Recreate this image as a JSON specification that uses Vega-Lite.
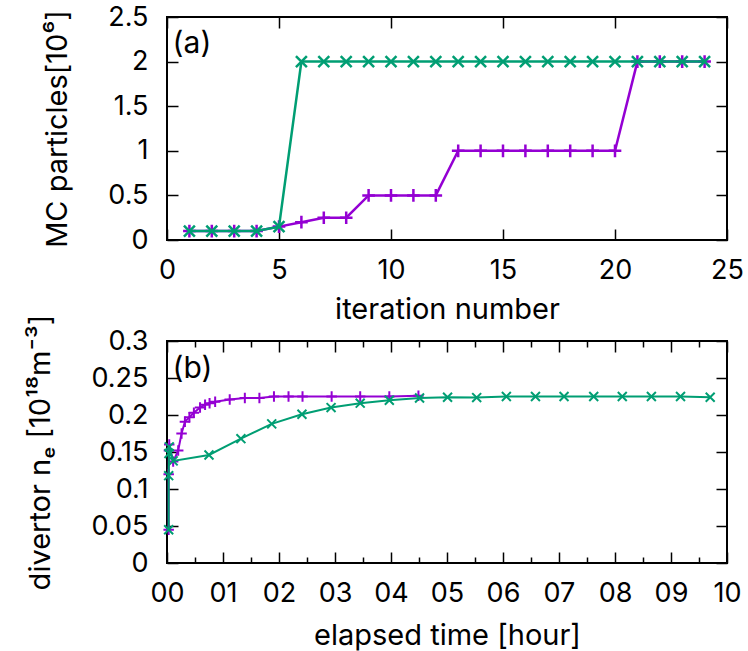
{
  "$schema": "https://vega.github.io/schema/vega-lite/v6.json",
  "background": "white",
  "padding": {"left": 25, "top": 2, "right": 5, "bottom": 0},
  "config": {
    "font": "Inter",
    "view": {"stroke": "black", "strokeWidth": 2},
    "axis": {
      "domain": false,
      "grid": false,
      "labelFont": "Inter",
      "titleFont": "Inter",
      "labelFontSize": 27,
      "titleFontSize": 29,
      "titleFontWeight": "normal",
      "labelColor": "black",
      "titleColor": "black",
      "tickColor": "black",
      "tickWidth": 1.5,
      "tickSize": -11,
      "labelOverlap": false,
      "labelBound": false
    },
    "axisX": {"labelFlush": false, "labelPadding": 28, "titlePadding": 10},
    "axisY": {"labelPadding": 30, "titlePadding": 35}
  },
  "datasets": {
    "a": [
      {"it": 1, "n": 0.1, "s": "p"}, {"it": 2, "n": 0.1, "s": "p"}, {"it": 3, "n": 0.1, "s": "p"}, {"it": 4, "n": 0.1, "s": "p"},
      {"it": 5, "n": 0.15, "s": "p"}, {"it": 6, "n": 0.2, "s": "p"}, {"it": 7, "n": 0.25, "s": "p"}, {"it": 8, "n": 0.25, "s": "p"},
      {"it": 9, "n": 0.5, "s": "p"}, {"it": 10, "n": 0.5, "s": "p"}, {"it": 11, "n": 0.5, "s": "p"}, {"it": 12, "n": 0.5, "s": "p"},
      {"it": 13, "n": 1, "s": "p"}, {"it": 14, "n": 1, "s": "p"}, {"it": 15, "n": 1, "s": "p"}, {"it": 16, "n": 1, "s": "p"},
      {"it": 17, "n": 1, "s": "p"}, {"it": 18, "n": 1, "s": "p"}, {"it": 19, "n": 1, "s": "p"}, {"it": 20, "n": 1, "s": "p"},
      {"it": 21, "n": 2, "s": "p"}, {"it": 22, "n": 2, "s": "p"}, {"it": 23, "n": 2, "s": "p"}, {"it": 24, "n": 2, "s": "p"},
      {"it": 1, "n": 0.1, "s": "g"}, {"it": 2, "n": 0.1, "s": "g"}, {"it": 3, "n": 0.1, "s": "g"}, {"it": 4, "n": 0.1, "s": "g"},
      {"it": 5, "n": 0.15, "s": "g"}, {"it": 6, "n": 2, "s": "g"}, {"it": 7, "n": 2, "s": "g"}, {"it": 8, "n": 2, "s": "g"},
      {"it": 9, "n": 2, "s": "g"}, {"it": 10, "n": 2, "s": "g"}, {"it": 11, "n": 2, "s": "g"}, {"it": 12, "n": 2, "s": "g"},
      {"it": 13, "n": 2, "s": "g"}, {"it": 14, "n": 2, "s": "g"}, {"it": 15, "n": 2, "s": "g"}, {"it": 16, "n": 2, "s": "g"},
      {"it": 17, "n": 2, "s": "g"}, {"it": 18, "n": 2, "s": "g"}, {"it": 19, "n": 2, "s": "g"}, {"it": 20, "n": 2, "s": "g"},
      {"it": 21, "n": 2, "s": "g"}, {"it": 22, "n": 2, "s": "g"}, {"it": 23, "n": 2, "s": "g"}, {"it": 24, "n": 2, "s": "g"}
    ],
    "b": [
      {"t": 0.03, "ne": 0.045, "s": "p"}, {"t": 0.03, "ne": 0.12, "s": "p"}, {"t": 0.035, "ne": 0.152, "s": "p"}, {"t": 0.04, "ne": 0.16, "s": "p"},
      {"t": 0.11, "ne": 0.137, "s": "p"}, {"t": 0.2, "ne": 0.152, "s": "p"}, {"t": 0.26, "ne": 0.175, "s": "p"}, {"t": 0.32, "ne": 0.191, "s": "p"},
      {"t": 0.4, "ne": 0.197, "s": "p"}, {"t": 0.48, "ne": 0.203, "s": "p"}, {"t": 0.59, "ne": 0.21, "s": "p"}, {"t": 0.68, "ne": 0.214, "s": "p"},
      {"t": 0.76, "ne": 0.216, "s": "p"}, {"t": 0.86, "ne": 0.218, "s": "p"}, {"t": 1.12, "ne": 0.221, "s": "p"}, {"t": 1.39, "ne": 0.223, "s": "p"},
      {"t": 1.65, "ne": 0.223, "s": "p"}, {"t": 1.91, "ne": 0.225, "s": "p"}, {"t": 2.17, "ne": 0.225, "s": "p"}, {"t": 2.42, "ne": 0.225, "s": "p"},
      {"t": 2.94, "ne": 0.225, "s": "p"}, {"t": 3.45, "ne": 0.225, "s": "p"}, {"t": 3.97, "ne": 0.225, "s": "p"}, {"t": 4.49, "ne": 0.226, "s": "p"},
      {"t": 0.03, "ne": 0.045, "s": "g"}, {"t": 0.03, "ne": 0.118, "s": "g"}, {"t": 0.035, "ne": 0.148, "s": "g"}, {"t": 0.04, "ne": 0.157, "s": "g"},
      {"t": 0.11, "ne": 0.138, "s": "g"}, {"t": 0.75, "ne": 0.146, "s": "g"}, {"t": 1.32, "ne": 0.168, "s": "g"}, {"t": 1.87, "ne": 0.188, "s": "g"},
      {"t": 2.41, "ne": 0.201, "s": "g"}, {"t": 2.93, "ne": 0.21, "s": "g"}, {"t": 3.45, "ne": 0.216, "s": "g"}, {"t": 3.97, "ne": 0.22, "s": "g"},
      {"t": 4.51, "ne": 0.223, "s": "g"}, {"t": 5.01, "ne": 0.224, "s": "g"}, {"t": 5.53, "ne": 0.2235, "s": "g"}, {"t": 6.06, "ne": 0.225, "s": "g"},
      {"t": 6.58, "ne": 0.225, "s": "g"}, {"t": 7.09, "ne": 0.225, "s": "g"}, {"t": 7.62, "ne": 0.225, "s": "g"}, {"t": 8.13, "ne": 0.225, "s": "g"},
      {"t": 8.65, "ne": 0.225, "s": "g"}, {"t": 9.17, "ne": 0.225, "s": "g"}, {"t": 9.7, "ne": 0.224, "s": "g"}
    ],
    "labA": [{"x": 0.25, "y": 2.2, "label": "(a)"}],
    "labB": [{"x": 0.1, "y": 0.262, "label": "(b)"}]
  },
  "spacing": -12,
  "vconcat": [
    {
      "width": 560,
      "height": 223,
      "resolve": {"scale": {"x": "independent", "y": "independent"}, "axis": {"x": "independent", "y": "independent"}},
      "layer": [
        {
          "data": {"name": "a"},
          "transform": [{"filter": "datum.s === 'p'"}],
          "mark": {"type": "line", "color": "#9400D3", "strokeWidth": 2.5},
          "encoding": {
            "x": {"field": "it", "type": "quantitative", "scale": {"domain": [0, 25], "nice": false},
                  "axis": {"orient": "bottom", "values": [0, 5, 10, 15, 20, 25], "title": "iteration number", "titlePadding": 12}},
            "y": {"field": "n", "type": "quantitative", "scale": {"domain": [0, 2.5], "nice": false},
                  "axis": {"orient": "left", "values": [0, 0.5, 1, 1.5, 2, 2.5], "format": "~g", "title": "MC particles[10⁶]"}}
          }
        },
        {
          "data": {"name": "a"},
          "transform": [{"filter": "datum.s === 'p'"}],
          "mark": {"type": "point", "shape": "M-1,0L1,0M0,-1L0,1", "filled": false, "color": "#9400D3", "strokeWidth": 2.5, "size": 160, "opacity": 1},
          "encoding": {
            "x": {"field": "it", "type": "quantitative", "scale": {"domain": [0, 25], "nice": false},
                  "axis": {"orient": "top", "values": [0, 5, 10, 15, 20, 25], "labels": false, "title": null}},
            "y": {"field": "n", "type": "quantitative", "scale": {"domain": [0, 2.5], "nice": false},
                  "axis": {"orient": "right", "values": [0, 0.5, 1, 1.5, 2, 2.5], "labels": false, "title": null}}
          }
        },
        {
          "data": {"name": "a"},
          "transform": [{"filter": "datum.s === 'g'"}],
          "mark": {"type": "line", "color": "#009E73", "strokeWidth": 2.5},
          "encoding": {
            "x": {"field": "it", "type": "quantitative", "scale": {"domain": [0, 25], "nice": false}, "axis": null},
            "y": {"field": "n", "type": "quantitative", "scale": {"domain": [0, 2.5], "nice": false}, "axis": null}
          }
        },
        {
          "data": {"name": "a"},
          "transform": [{"filter": "datum.s === 'g'"}],
          "mark": {"type": "point", "shape": "M-1,-1L1,1M-1,1L1,-1", "filled": false, "color": "#009E73", "strokeWidth": 2.5, "size": 120, "opacity": 1},
          "encoding": {
            "x": {"field": "it", "type": "quantitative", "scale": {"domain": [0, 25], "nice": false}, "axis": null},
            "y": {"field": "n", "type": "quantitative", "scale": {"domain": [0, 2.5], "nice": false}, "axis": null}
          }
        },
        {
          "data": {"name": "labA"},
          "mark": {"type": "text", "align": "left", "baseline": "middle", "fontSize": 30, "font": "Inter", "color": "black"},
          "encoding": {
            "x": {"field": "x", "type": "quantitative", "scale": {"domain": [0, 25], "nice": false}, "axis": null},
            "y": {"field": "y", "type": "quantitative", "scale": {"domain": [0, 2.5], "nice": false}, "axis": null},
            "text": {"field": "label"}
          }
        }
      ]
    },
    {
      "width": 560,
      "height": 222,
      "resolve": {"scale": {"x": "independent", "y": "independent"}, "axis": {"x": "independent", "y": "independent"}},
      "layer": [
        {
          "data": {"name": "b"},
          "transform": [{"filter": "datum.s === 'p'"}],
          "mark": {"type": "line", "color": "#9400D3", "strokeWidth": 2},
          "encoding": {
            "x": {"field": "t", "type": "quantitative", "scale": {"domain": [0, 10], "nice": false},
                  "axis": {"orient": "bottom", "values": [0, 0.5, 1, 1.5, 2, 2.5, 3, 3.5, 4, 4.5, 5, 5.5, 6, 6.5, 7, 7.5, 8, 8.5, 9, 9.5, 10],
                           "labelExpr": "datum.value % 1 === 0 ? (datum.value < 10 ? '0' + datum.value : '' + datum.value) : ''",
                           "tickSize": {"condition": {"test": "datum.value % 1 === 0", "value": -11}, "value": -6},
                           "title": "elapsed time [hour]"}},
            "y": {"field": "ne", "type": "quantitative", "scale": {"domain": [0, 0.3], "nice": false},
                  "axis": {"orient": "left", "values": [0, 0.05, 0.1, 0.15, 0.2, 0.25, 0.3], "format": "~g", "title": "divertor nₑ [10¹⁸m⁻³]"}}
          }
        },
        {
          "data": {"name": "b"},
          "transform": [{"filter": "datum.s === 'p'"}],
          "mark": {"type": "point", "shape": "M-1,0L1,0M0,-1L0,1", "filled": false, "color": "#9400D3", "strokeWidth": 2, "size": 110, "opacity": 1},
          "encoding": {
            "x": {"field": "t", "type": "quantitative", "scale": {"domain": [0, 10], "nice": false},
                  "axis": {"orient": "top", "values": [0, 0.5, 1, 1.5, 2, 2.5, 3, 3.5, 4, 4.5, 5, 5.5, 6, 6.5, 7, 7.5, 8, 8.5, 9, 9.5, 10],
                           "labels": false, "title": null,
                           "tickSize": {"condition": {"test": "datum.value % 1 === 0", "value": -11}, "value": -6}}},
            "y": {"field": "ne", "type": "quantitative", "scale": {"domain": [0, 0.3], "nice": false},
                  "axis": {"orient": "right", "values": [0, 0.05, 0.1, 0.15, 0.2, 0.25, 0.3], "labels": false, "title": null}}
          }
        },
        {
          "data": {"name": "b"},
          "transform": [{"filter": "datum.s === 'g'"}],
          "mark": {"type": "line", "color": "#009E73", "strokeWidth": 2},
          "encoding": {
            "x": {"field": "t", "type": "quantitative", "scale": {"domain": [0, 10], "nice": false}, "axis": null},
            "y": {"field": "ne", "type": "quantitative", "scale": {"domain": [0, 0.3], "nice": false}, "axis": null}
          }
        },
        {
          "data": {"name": "b"},
          "transform": [{"filter": "datum.s === 'g'"}],
          "mark": {"type": "point", "shape": "M-1,-1L1,1M-1,1L1,-1", "filled": false, "color": "#009E73", "strokeWidth": 2, "size": 80, "opacity": 1},
          "encoding": {
            "x": {"field": "t", "type": "quantitative", "scale": {"domain": [0, 10], "nice": false}, "axis": null},
            "y": {"field": "ne", "type": "quantitative", "scale": {"domain": [0, 0.3], "nice": false}, "axis": null}
          }
        },
        {
          "data": {"name": "labB"},
          "mark": {"type": "text", "align": "left", "baseline": "middle", "fontSize": 30, "font": "Inter", "color": "black"},
          "encoding": {
            "x": {"field": "x", "type": "quantitative", "scale": {"domain": [0, 10], "nice": false}, "axis": null},
            "y": {"field": "y", "type": "quantitative", "scale": {"domain": [0, 0.3], "nice": false}, "axis": null},
            "text": {"field": "label"}
          }
        }
      ]
    }
  ]
}
